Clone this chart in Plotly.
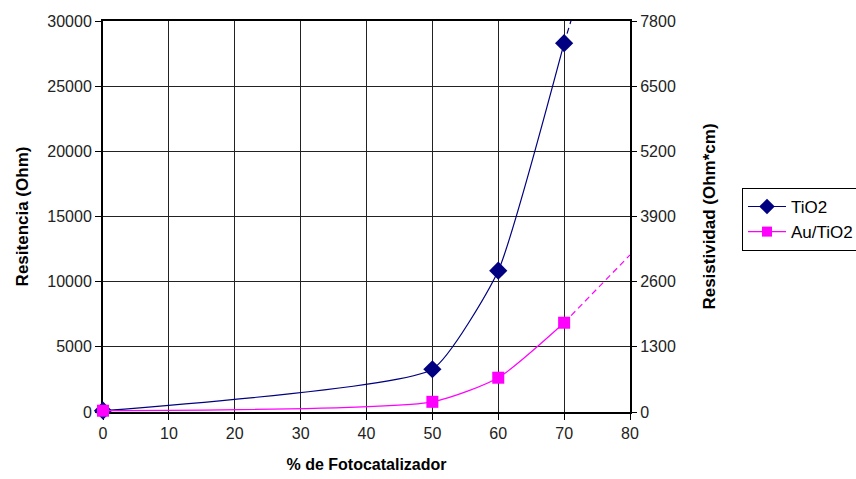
import plotly.graph_objects as go

# % de fotocatalizador
pct = [0, 50, 60, 70]
# Resistencia medida (Ohm)
tio2 = [100, 3280, 10840, 28300]
au_tio2 = [100, 780, 2630, 6850]

# Proyección (línea discontinua) más allá del último punto
tio2_proj_x = [70, 72]
tio2_proj_y = [28300, 31600]
au_proj_x = [70, 80]
au_proj_y = [6850, 12050]

# Eje secundario: resistividad = resistencia * factor
left_ticks = [0, 5000, 10000, 15000, 20000, 25000, 30000]
right_ticks = [0, 1300, 2600, 3900, 5200, 6500, 7800]
x_ticks = [0, 10, 20, 30, 40, 50, 60, 70, 80]

NAVY = "#000080"
MAGENTA = "#FF00FF"
FONT = "Liberation Sans, Arial, sans-serif"

series = [
    ("TiO2", tio2, NAVY, "diamond", 14, 0.45),
    ("Au/TiO2", au_tio2, MAGENTA, "square", 12, 0.6),
]

fig = go.Figure()

fig.add_trace(go.Scatter(
    x=tio2_proj_x, y=tio2_proj_y, mode="lines",
    line=dict(color=NAVY, width=1.2, dash="6px,4px"),
    showlegend=False, hoverinfo="skip"))
fig.add_trace(go.Scatter(
    x=au_proj_x, y=au_proj_y, mode="lines",
    line=dict(color=MAGENTA, width=1.2, dash="6px,4px"),
    showlegend=False, hoverinfo="skip"))

for name, vals, color, symbol, size, smooth in series:
    fig.add_trace(go.Scatter(
        x=pct, y=vals, name=name, mode="lines+markers",
        line=dict(color=color, width=1.2, shape="spline", smoothing=smooth),
        marker=dict(symbol=symbol, size=size, color=color),
        cliponaxis=False, showlegend=False))

# Entradas de leyenda (línea recta + marcador)
for name, vals, color, symbol, size, smooth in series:
    fig.add_trace(go.Scatter(
        x=[None], y=[None], name=name, mode="lines+markers",
        line=dict(color=color, width=1.2),
        marker=dict(symbol=symbol, size=size - 2, color=color),
        showlegend=True))

# Traza invisible para activar el eje derecho
fig.add_trace(go.Scatter(
    x=[0], y=[0], yaxis="y2", mode="markers",
    marker=dict(opacity=0), showlegend=False, hoverinfo="skip"))

axis_common = dict(
    showline=True, linewidth=2, linecolor="black", mirror=True,
    showgrid=True, gridcolor="#222222", gridwidth=1,
    ticks="outside", ticklen=6, tickwidth=1, tickcolor="black",
    zeroline=False, layer="below traces",
    tickfont=dict(family=FONT, size=16, color="#222222"),
)

fig.update_layout(
    width=856, height=479,
    paper_bgcolor="white", plot_bgcolor="white",
    margin=dict(l=103, r=226, t=21, b=67, autoexpand=False),
    font=dict(family=FONT, color="black"),
    xaxis=dict(
        axis_common, range=[0, 80], tickvals=x_ticks,
        ticktext=[str(v) for v in x_ticks],
        title=dict(text="<b>% de Fotocatalizador</b>",
                   font=dict(family=FONT, size=16), standoff=18),
    ),
    yaxis=dict(
        axis_common, range=[0, 30000], tickvals=left_ticks,
        ticktext=[str(v) for v in left_ticks],
        title=dict(text="<b>Resitencia (Ohm)</b>",
                   font=dict(family=FONT, size=17), standoff=14),
    ),
    yaxis2=dict(
        overlaying="y", side="right", range=[0, 7800], tickvals=right_ticks,
        ticktext=[str(v) for v in right_ticks],
        showgrid=False, zeroline=False, showline=False,
        ticks="outside", ticklen=6, tickwidth=1, tickcolor="black",
        tickfont=dict(family=FONT, size=16, color="#222222"),
        title=dict(text="<b>Resistividad (Ohm*cm)</b>",
                   font=dict(family=FONT, size=17), standoff=28),
    ),
    legend=dict(
        x=1.2125, y=0.573, xanchor="left", yanchor="top",
        bordercolor="black", borderwidth=1, bgcolor="white",
        font=dict(family=FONT, size=17, color="black"),
        itemwidth=38, tracegroupgap=0,
    ),
    showlegend=True,
)

fig.write_html("out.html")
